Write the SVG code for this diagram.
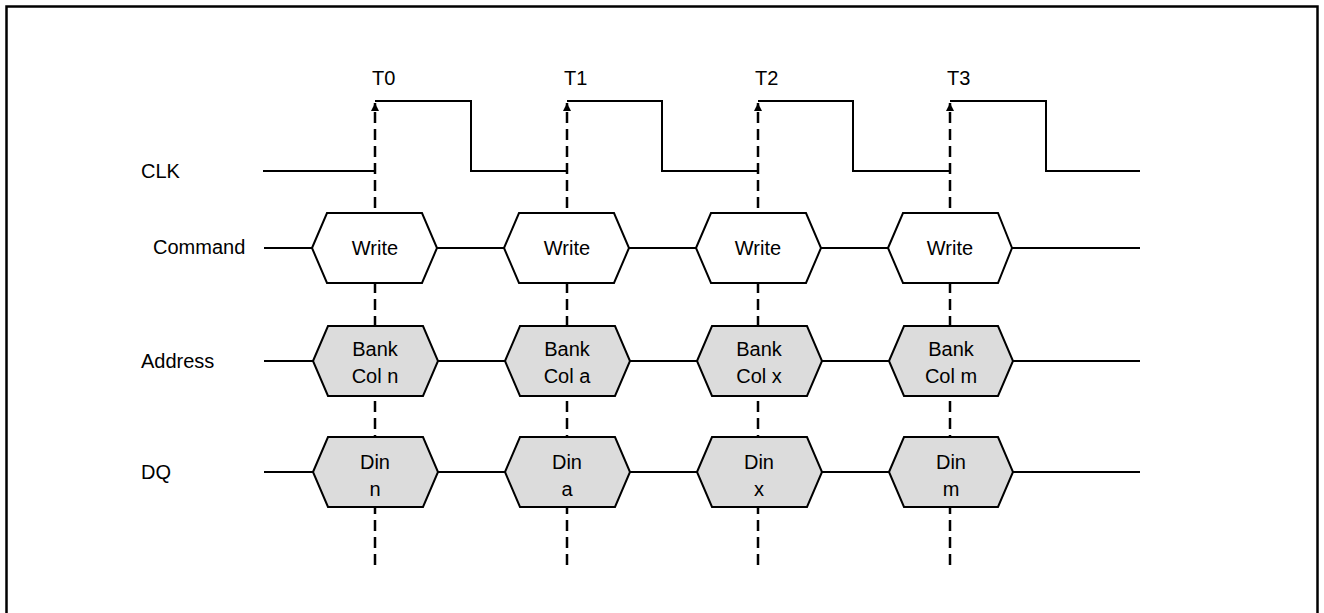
<svg xmlns="http://www.w3.org/2000/svg" width="1324" height="613" viewBox="0 0 1324 613">
<defs>
<style>
text{font-family:"Liberation Sans",Arial,sans-serif;font-size:20px;fill:#000}
.mid{text-anchor:middle}
.sig{fill:none;stroke:#000;stroke-width:2}
.hexw{fill:#fff;stroke:#000;stroke-width:2}
.hexg{fill:#dcdcdc;stroke:#000;stroke-width:2}
.dash{fill:none;stroke:#000;stroke-width:2.5;stroke-dasharray:11 6}
</style>
<marker id="arr" viewBox="0 0 10 10" refX="10" refY="5" markerWidth="8" markerHeight="8" markerUnits="userSpaceOnUse" orient="auto">
<path d="M0,0 L10,5 L0,10 z" fill="#000"/>
</marker>
</defs>
<rect x="0" y="0" width="1324" height="613" fill="#fff"/>
<rect x="6.5" y="6.5" width="1311" height="620" fill="none" stroke="#000" stroke-width="2.5"/>

<g id="connectors">
<path class="dash" d="M375,565 V103" marker-end="url(#arr)"/>
<path class="dash" d="M567,565 V103" marker-end="url(#arr)"/>
<path class="dash" d="M758,565 V103" marker-end="url(#arr)"/>
<path class="dash" d="M950,565 V103" marker-end="url(#arr)"/>
</g>

<g id="clk">
<text x="141" y="178">CLK</text>
<path class="sig" d="M263,171 H375 M375,101 H471 V171 H567 M567,101 H662 V171 H758 M758,101 H853 V171 H950 M950,101 H1046 V171 H1140"/>
<text x="372" y="85">T0</text>
<text x="564" y="85">T1</text>
<text x="755" y="85">T2</text>
<text x="947" y="85">T3</text>
</g>

<g id="command">
<text x="153" y="254">Command</text>
<path class="sig" d="M264,248 H312 M437,248 H504 M629,248 H696 M821,248 H888 M1012,248 H1140"/>
</g>
<g id="cmd0"><polygon class="hexw" points="312,248 327,213 422,213 437,248 422,283 327,283"/><text class="mid" x="375" y="255">Write</text></g>
<g id="cmd1"><polygon class="hexw" points="504,248 519,213 614,213 629,248 614,283 519,283"/><text class="mid" x="567" y="255">Write</text></g>
<g id="cmd2"><polygon class="hexw" points="696,248 711,213 806,213 821,248 806,283 711,283"/><text class="mid" x="758" y="255">Write</text></g>
<g id="cmd3"><polygon class="hexw" points="888,248 903,213 998,213 1012,248 998,283 903,283"/><text class="mid" x="950" y="255">Write</text></g>

<g id="address">
<text x="141" y="368">Address</text>
<path class="sig" d="M264,361 H313 M438,361 H505 M630,361 H697 M822,361 H889 M1013,361 H1140"/>
</g>
<g id="addr0"><polygon class="hexg" points="313,361 328,326 423,326 438,361 423,396 328,396"/><text class="mid" x="375" y="356">Bank</text><text class="mid" x="375" y="383">Col n</text></g>
<g id="addr1"><polygon class="hexg" points="505,361 520,326 615,326 630,361 615,396 520,396"/><text class="mid" x="567" y="356">Bank</text><text class="mid" x="567" y="383">Col a</text></g>
<g id="addr2"><polygon class="hexg" points="697,361 712,326 807,326 822,361 807,396 712,396"/><text class="mid" x="759" y="356">Bank</text><text class="mid" x="759" y="383">Col x</text></g>
<g id="addr3"><polygon class="hexg" points="889,361 904,326 998,326 1013,361 998,396 904,396"/><text class="mid" x="951" y="356">Bank</text><text class="mid" x="951" y="383">Col m</text></g>

<g id="dq">
<text x="141" y="479">DQ</text>
<path class="sig" d="M264,472 H313 M438,472 H505 M630,472 H697 M822,472 H889 M1013,472 H1140"/>
</g>
<g id="dq0"><polygon class="hexg" points="313,472 328,437 423,437 438,472 423,507 328,507"/><text class="mid" x="375" y="469">Din</text><text class="mid" x="375" y="496">n</text></g>
<g id="dq1"><polygon class="hexg" points="505,472 520,437 615,437 630,472 615,507 520,507"/><text class="mid" x="567" y="469">Din</text><text class="mid" x="567" y="496">a</text></g>
<g id="dq2"><polygon class="hexg" points="697,472 712,437 807,437 822,472 807,507 712,507"/><text class="mid" x="759" y="469">Din</text><text class="mid" x="759" y="496">x</text></g>
<g id="dq3"><polygon class="hexg" points="889,472 904,437 998,437 1013,472 998,507 904,507"/><text class="mid" x="951" y="469">Din</text><text class="mid" x="951" y="496">m</text></g>
</svg>
